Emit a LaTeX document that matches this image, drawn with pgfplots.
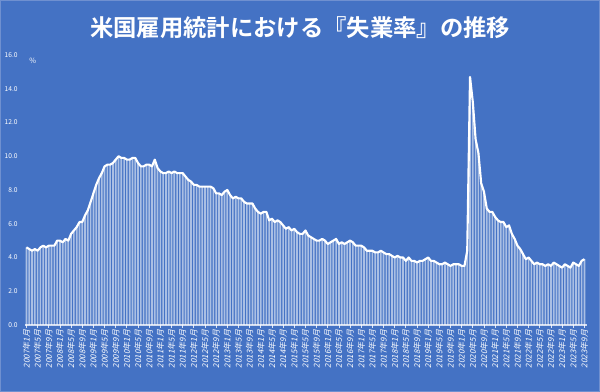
\documentclass[border=0pt]{standalone}
\usepackage{pgfplots}
\usepackage{pgfplotstable}
\pgfplotsset{compat=1.18}
\usepackage{fontspec}
\setmainfont{Noto Sans CJK JP}
\newfontfamily\jpbold{Noto Sans CJK JP Bold}
\newfontfamily\jpslant[FakeSlant=0.2]{Noto Sans CJK JP}
\definecolor{bg}{HTML}{4472C4}
\definecolor{bgedge}{HTML}{6F90D0}
\pgfplotstableread[row sep=\\]{
x y\\
0 4.6\\ 1 4.5\\ 2 4.4\\ 3 4.5\\ 4 4.4\\ 5 4.6\\ 6 4.7\\ 7 4.6\\ 8 4.7\\ 9 4.7\\ 10 4.7\\ 11 5.0\\
12 5.0\\ 13 4.9\\ 14 5.1\\ 15 5.0\\ 16 5.4\\ 17 5.6\\ 18 5.8\\ 19 6.1\\ 20 6.1\\ 21 6.5\\ 22 6.8\\ 23 7.3\\
24 7.8\\ 25 8.3\\ 26 8.7\\ 27 9.0\\ 28 9.4\\ 29 9.5\\ 30 9.5\\ 31 9.6\\ 32 9.8\\ 33 10.0\\ 34 9.9\\ 35 9.9\\
36 9.8\\ 37 9.8\\ 38 9.9\\ 39 9.9\\ 40 9.6\\ 41 9.4\\ 42 9.4\\ 43 9.5\\ 44 9.5\\ 45 9.4\\ 46 9.8\\ 47 9.3\\
48 9.1\\ 49 9.0\\ 50 9.0\\ 51 9.1\\ 52 9.0\\ 53 9.1\\ 54 9.0\\ 55 9.0\\ 56 9.0\\ 57 8.8\\ 58 8.6\\ 59 8.5\\
60 8.3\\ 61 8.3\\ 62 8.2\\ 63 8.2\\ 64 8.2\\ 65 8.2\\ 66 8.2\\ 67 8.1\\ 68 7.8\\ 69 7.8\\ 70 7.7\\ 71 7.9\\
72 8.0\\ 73 7.7\\ 74 7.5\\ 75 7.6\\ 76 7.5\\ 77 7.5\\ 78 7.3\\ 79 7.2\\ 80 7.2\\ 81 7.2\\ 82 6.9\\ 83 6.7\\
84 6.6\\ 85 6.7\\ 86 6.7\\ 87 6.2\\ 88 6.3\\ 89 6.1\\ 90 6.2\\ 91 6.1\\ 92 5.9\\ 93 5.7\\ 94 5.8\\ 95 5.6\\
96 5.7\\ 97 5.5\\ 98 5.4\\ 99 5.4\\ 100 5.6\\ 101 5.3\\ 102 5.2\\ 103 5.1\\ 104 5.0\\ 105 5.0\\ 106 5.1\\ 107 5.0\\
108 4.8\\ 109 4.9\\ 110 5.0\\ 111 5.1\\ 112 4.8\\ 113 4.9\\ 114 4.8\\ 115 4.9\\ 116 5.0\\ 117 4.9\\ 118 4.7\\ 119 4.7\\
120 4.7\\ 121 4.6\\ 122 4.4\\ 123 4.4\\ 124 4.4\\ 125 4.3\\ 126 4.3\\ 127 4.4\\ 128 4.3\\ 129 4.2\\ 130 4.2\\ 131 4.1\\
132 4.0\\ 133 4.1\\ 134 4.0\\ 135 4.0\\ 136 3.8\\ 137 4.0\\ 138 3.8\\ 139 3.8\\ 140 3.7\\ 141 3.8\\ 142 3.8\\ 143 3.9\\
144 4.0\\ 145 3.8\\ 146 3.8\\ 147 3.7\\ 148 3.6\\ 149 3.6\\ 150 3.7\\ 151 3.6\\ 152 3.5\\ 153 3.6\\ 154 3.6\\ 155 3.6\\
156 3.5\\ 157 3.5\\ 158 4.4\\ 159 14.7\\ 160 13.2\\ 161 11.0\\ 162 10.2\\ 163 8.4\\ 164 7.9\\ 165 6.9\\ 166 6.7\\ 167 6.7\\
168 6.4\\ 169 6.2\\ 170 6.1\\ 171 6.1\\ 172 5.8\\ 173 5.9\\ 174 5.4\\ 175 5.1\\ 176 4.7\\ 177 4.5\\ 178 4.2\\ 179 3.9\\
180 4.0\\ 181 3.8\\ 182 3.6\\ 183 3.7\\ 184 3.6\\ 185 3.6\\ 186 3.5\\ 187 3.6\\ 188 3.5\\ 189 3.7\\ 190 3.6\\ 191 3.5\\
192 3.4\\ 193 3.6\\ 194 3.5\\ 195 3.4\\ 196 3.7\\ 197 3.6\\ 198 3.5\\ 199 3.8\\ 200 3.9\\
}\unemp
\begin{document}
\begin{tikzpicture}
\fill[bg] (0,0) rectangle (450pt,294pt);
\draw[bgedge, line width=0.8pt] (0.4pt,0.4pt) rectangle (449.6pt,293.6pt);
\node[text=white, font=\jpbold\fontsize{17.5}{20}\selectfont] at (225pt,273.5pt) {米国雇用統計における『失業率』の推移};
\node[text=white, font=\fontsize{5.5}{6}\selectfont, anchor=west] at (18.5pt,248.5pt) {\%};
\begin{axis}[
  at={(18.8pt,50.25pt)}, anchor=south west,
  scale only axis, width=421.6pt, height=202.5pt,
  xmin=-0.5, xmax=201, ymin=0, ymax=16,
  axis x line*=bottom, axis y line*=left,
  x axis line style={-, draw=white, draw opacity=0.75, line width=0.9pt},
  y axis line style={draw=none},
  ytick={0,2,...,16},
  yticklabel style={text=white, font=\fontsize{5}{6}\selectfont, /pgf/number format/.cd, fixed, fixed zerofill, precision=1, assume math mode=true},
  ytick style={draw=none},
  xtick={0,4,...,200},
  xticklabels={2007年1月,2007年5月,2007年9月,2008年1月,2008年5月,2008年9月,2009年1月,2009年5月,2009年9月,2010年1月,2010年5月,2010年9月,2011年1月,2011年5月,2011年9月,2012年1月,2012年5月,2012年9月,2013年1月,2013年5月,2013年9月,2014年1月,2014年5月,2014年9月,2015年1月,2015年5月,2015年9月,2016年1月,2016年5月,2016年9月,2017年1月,2017年5月,2017年9月,2018年1月,2018年5月,2018年9月,2019年1月,2019年5月,2019年9月,2020年1月,2020年5月,2020年9月,2021年1月,2021年5月,2021年9月,2022年1月,2022年5月,2022年9月,2023年1月,2023年5月,2023年9月},
  xticklabel style={rotate=90, anchor=east, text=white, font=\jpslant\fontsize{6}{7}\selectfont, inner sep=1.5pt},
  xtick style={draw=white, draw opacity=0.8, line width=0.6pt},
  tick align=outside, major tick length=2pt,
  clip=false,
]
\addplot[ybar, bar width=0.6, bar shift=0pt, draw=none, fill=white, fill opacity=0.55] table[x=x, y=y] {\unemp};
\addplot[white, line width=1.6pt, line join=round, mark=none] table[x=x, y=y] {\unemp};
\end{axis}
\end{tikzpicture}
\end{document}
